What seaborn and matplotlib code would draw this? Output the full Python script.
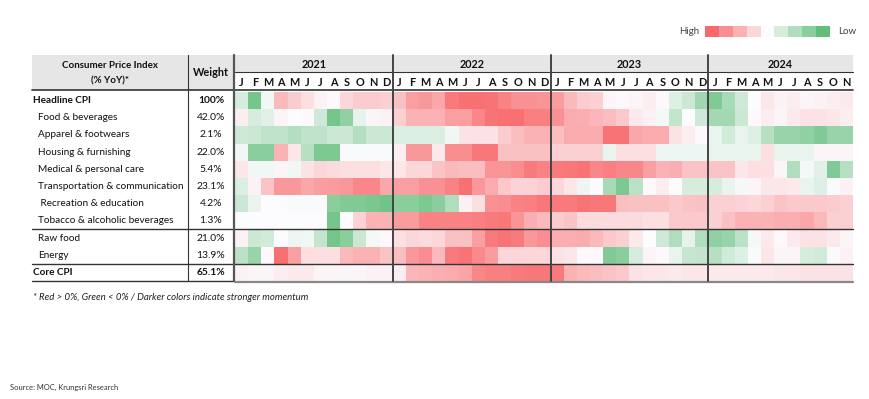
import numpy as np
import pandas as pd
import matplotlib
matplotlib.use("Agg")
import matplotlib.pyplot as plt
import matplotlib.transforms as mtransforms
from matplotlib.colors import LinearSegmentedColormap
import seaborn as sns

# row labels and weights
categories = ["Headline CPI", "Food & beverages", "Apparel & footwears", "Housing & furnishing",
              "Medical & personal care", "Transportation & communication", " Recreation & education",
              "Tobacco & alcoholic beverages", "Raw food", "Energy", "Core CPI"]
weights = ["100%", "42.0%", "2.1%", "22.0%", "5.4%", "23.1%", "4.2%", "1.3%", "21.0%", "13.9%", "65.1%"]
years = ["2021", "2022", "2023", "2024"]
months_per_year = [12, 12, 12, 11]
month_letters = list("JFMAMJJASOND")

# momentum score: >0 red (high), <0 green (low)
headline = [-1, -3.5, -0.3, 1.8, 1.3, 0.8, 0.3, 0.1, 1, 1.3, 1.3, 1.2,
            1.6, 2.5, 2.7, 2.3, 3.5, 3.8, 3.8, 3.7, 3.3, 2.9, 2.9, 2.8,
            2.6, 1.8, 1.3, 1.2, 0.2, 0.1, 0.2, 0.4, 0.1, -0.8, -1.3, -2.4,
            -3.2, -2.2, -1.2, 0, 0.6, 0.3, 0.4, 0.2, 0.3, 0.4, 0.5]
food = [0.4, -1, -0.7, 0.2, 0, 0.1, -1.2, -3.5, -2.8, -0.6, 0.2, 0.3,
        1.2, 2, 2, 2, 2.5, 2.5, 3.2, 3.7, 3.8, 3.8, 3.4, 3.4,
        2.9, 2.2, 2.1, 1.9, 1.7, 1.4, 0.5, 0.3, -0.2, -1.5, 0, -1.2,
        -2.3, -2.3, -1.3, 0.1, 0.4, 0.2, 0.5, 0.7, 0.7, 0.6, 0.4]
apparel = [-1.2, -1.3, -1.6, -1.6, -1.9, -1.6, -1.6, -1.3, -1.3, -1.9, -1.3, -1.3,
           -0.9, -0.9, -0.9, -0.9, -0.3, 0.7, 0.7, 0.7, 1.3, 1.7, 2, 2,
           1.7, 2.2, 2.2, 2.2, 3.7, 3.7, 2.3, 2.2, 2.2, 0.7, 0.4, 0.1,
           -0.5, -1.1, -0.5, -0.8, -1.8, -2.6, -2.6, -2.8, -3.2, -2.6, -2.6]
housing = [-0.3, -3, -3, 2, 0.6, -1.8, -3.3, -3.3, -0.1, -0.1, -0.1, -0.1,
           0.4, 2.7, 2.7, 0.5, 3, 3, 3.6, 3.6, 1.6, 1.6, 1.6, 1.6,
           1.2, 1.2, 1.2, 1.2, -0.5, 0.8, 0.8, 0.8, -0.4, -0.4, -0.4, -0.4,
           -0.5, -0.5, -0.5, -0.5, 0.8, -0.5, -0.5, -0.5, 0.2, 0.2, 0.2]
medical = [0.6, -0.3, -0.3, 0.2, -0.3, 0.7, 1, 0.9, 0.8, 0.8, 0.8, 0.6,
           0.6, 1, 1, 1.5, 1.8, 1.7, 1.7, 2.8, 2.8, 3, 3.5, 3.3,
           3.5, 3.6, 3.7, 3.2, 3.4, 3.2, 3.2, 2.5, 2, 2.1, 1.5, 1.5,
           1.5, 1.5, 0.6, 0.8, 0.8, 0.2, -2, -0.2, -0.7, -3.2, -1.8]
transport = [-0.9, 0.3, 1.5, 2.7, 2.7, 2.3, 2.5, 2.6, 2.7, 3.2, 3.2, 2.3,
             2.5, 2.5, 2.9, 2.9, 3.3, 3.8, 2.7, 2.2, 1.4, 1.1, 1.1, 1.3,
             1, 0.6, -0.4, 0, -2.2, -3.3, -1.7, 0.1, 0.4, 0, -1, -1,
             -1, -0.5, -0.2, 0.2, 0.6, 0.6, 0.5, -0.5, -0.8, -0.1, 0.3]
recreation = [-1.3, -0.5, 0, 0, -0.1, -0.1, -0.1, -3, -3.2, -3.2, -3.4, -3.6,
              -3, -3, -3.3, -3, -2, 0.3, 0.8, 2.9, 3, 3.3, 3.4, 3.6,
              3.5, 3.5, 3.7, 3.6, 3.6, 1.7, 1.6, 1.6, 1.6, 1.4, 1.5, 1.6,
              1.2, 1.2, 1.1, 1, 1.2, 1.5, 1.4, 1.4, 1.4, 1.3, 1.2]
tobacco = [0, 0, 0, 0, 0, 0, 0, -3.5, 0, 1.1, 2, 2,
           2.6, 2.6, 3.3, 3.3, 3.3, 3.3, 3.4, 3.5, 3.6, 2.8, 2.1, 1.8,
           1.3, 1.5, 0.9, 0.9, 0.9, 0.9, 0.9, 0.8, 0.8, 1.4, 1.4, 1.4,
           1.2, 1.6, 2, 2, 2, 2.1, 2.1, 2.3, 1.8, 1.2, 1.2]
raw_food = [0.3, -1.3, -1.1, 0, -0.4, -0.3, -1.5, -3.5, -3, -1.3, -0.2, 0.1,
            0.8, 1, 0.9, 1, 1.6, 1.6, 2.5, 3.5, 3.7, 3.5, 2.7, 3,
            2.1, 2.1, 2.2, 1.8, 1.4, 1.2, 0.5, 0, -1.2, -2, -0.6, -2,
            -2.8, -2.6, -1.7, -0.2, 0.5, 0.1, 0.5, 0.7, 0.7, 0.5, 0.2]
energy = [-1.7, -2.6, 0.1, 3.8, 2.5, 0.8, 0.8, 0.8, 1.8, 2, 2, 1.5,
          1.7, 2.7, 3, 1.8, 3.5, 3.7, 3.1, 2.6, 1, 1, 1, 1,
          0.7, 0.6, 0.1, 0.1, -3.2, -3, -1, 0.2, 0.1, -0.5, -1.4, -1.5,
          -1.8, -1.1, -0.8, -0.1, 0.6, 0.2, 0.2, -1, -1.1, -0.1, 0.3]
core = [0.3, 0.2, 0.2, 0.4, 0.5, 0.5, 0.2, 0.2, 0.2, 0.2, 0.3, 0.3,
        0.4, 1.9, 2, 2.1, 2.2, 2.4, 3.2, 3.4, 3.4, 3.5, 3.6, 3.6,
        3.5, 2, 1.8, 1.7, 1.5, 1.4, 0.7, 0.6, 0.6, 0.5, 0.6, 0.6,
        0.5, 0.5, 0.5, 0.5, 0.5, 0.6, 0.6, 0.7, 0.7, 0.7, 0.7]
legend_levels = [4, 3, 2, 1, 0, -1, -2, -3, -4]

col_months = [m for n in months_per_year for m in month_letters[:n]]
df = pd.DataFrame([headline, food, apparel, housing, medical, transport, recreation,
                   tobacco, raw_food, energy, core], index=categories)

sns.set_theme(style="white")
plt.rcParams['font.family'] = ['Lato', 'DejaVu Sans']

cmap = LinearSegmentedColormap.from_list("excel3", ["#63BE7B", "#FCFCFF", "#F8696B"])

W, H = 870, 399
fig = plt.figure(figsize=(W / 100, H / 100), dpi=100)

# heatmap block
ax = fig.add_axes([235 / W, 1 - 281 / H, 618 / W, 189 / H])
sns.heatmap(df, ax=ax, cmap=cmap, vmin=-4, vmax=4, cbar=False,
            xticklabels=False, yticklabels=False)
ax.set_xlabel("")
ax.set_ylabel("")

# overlay in pixel coords for table frame and text
ov = fig.add_axes([0, 0, 1, 1])
ov.set_xlim(0, W)
ov.set_ylim(H, 0)
ov.axis("off")
ov.patch.set_alpha(0)
ov.set_zorder(3)

row_tr = mtransforms.blended_transform_factory(ov.transData, ax.transData)
col_tr = mtransforms.blended_transform_factory(ax.transData, ov.transData)

dark = "#333333"
grey_bg = "#E6E6E6"
txt = "#111111"

# header backgrounds
ov.add_patch(plt.Rectangle((32, 55), 201, 35, color=grey_bg, lw=0, zorder=0))
ov.add_patch(plt.Rectangle((0, 55), len(col_months), 17, color=grey_bg, lw=0,
                           transform=col_tr, zorder=0))

ov.text(110, 65, "Consumer Price Index", ha="center", va="center", fontsize=7, fontweight="bold", color=txt)
ov.text(110, 81, "(% YoY)*", ha="center", va="center", fontsize=7, fontweight="bold", color=txt)
ov.text(211, 73, "Weight", ha="center", va="center", fontsize=7.8, fontweight="bold", color=txt)

# year and month headers
start = 0
for yr, n in zip(years, months_per_year):
    ov.text(start + n / 2, 64.5, yr, transform=col_tr, ha="center", va="center",
            fontsize=7.8, fontweight="bold", color=txt)
    start += n
for i, m in enumerate(col_months):
    ov.text(i + 0.5, 82, m, transform=col_tr, ha="center", va="center",
            fontsize=7.8, fontweight="bold", color=txt)

# row labels and weights
bold_rows = {"Headline CPI", "Core CPI"}
for i, (cat, w) in enumerate(zip(categories, weights)):
    is_bold = cat in bold_rows
    ov.text(33 if is_bold else 38, i + 0.5, cat, transform=row_tr, ha="left", va="center",
            fontsize=7.2, fontweight="bold" if is_bold else "normal", color=txt)
    ov.text(211, i + 0.5, w, transform=row_tr, ha="center", va="center",
            fontsize=7.4, fontweight="bold" if is_bold else "normal", color=txt)

# frame lines
ov.plot([235, 853], [72, 72], color=dark, lw=0.8)
ov.plot([32, 853], [90, 90], color=dark, lw=1.2)
for r in [8, 10]:
    ov.plot([32, 853], [r, r], transform=row_tr, color=dark, lw=1.0)
ov.plot([32, 233], [281, 281], color=dark, lw=1.0)
ov.plot([235, 853], [281.5, 281.5], color="#888888", lw=1.6)
ov.plot([188, 188], [55, 281], color=dark, lw=0.8)
ov.plot([234, 234], [55, 281], color="#555555", lw=1.6)
bound = 0
for n in months_per_year[:-1]:
    bound += n
    ov.plot([bound, bound], [55, 281], transform=col_tr, color="#444444", lw=1.4)

# colour legend
lax = fig.add_axes([705 / W, 1 - 37 / H, 125 / W, 11 / H])
sns.heatmap(pd.DataFrame([legend_levels]), ax=lax, cmap=cmap, vmin=-4, vmax=4, cbar=False,
            xticklabels=False, yticklabels=False)
ov.text(699, 31.5, "High", ha="right", va="center", fontsize=7, color="#444444")
ov.text(838, 31.5, "Low", ha="left", va="center", fontsize=7, color="#444444")

ov.text(33, 297, "* Red > 0%, Green < 0% / Darker colors indicate stronger momentum",
        ha="left", va="center", fontsize=6.9, style="italic", color="#222222")
ov.text(10, 387, "Source: MOC, Krungsri Research", ha="left", va="center",
        fontsize=5.4, color="#333333")

fig.savefig("out.png", dpi=100)
